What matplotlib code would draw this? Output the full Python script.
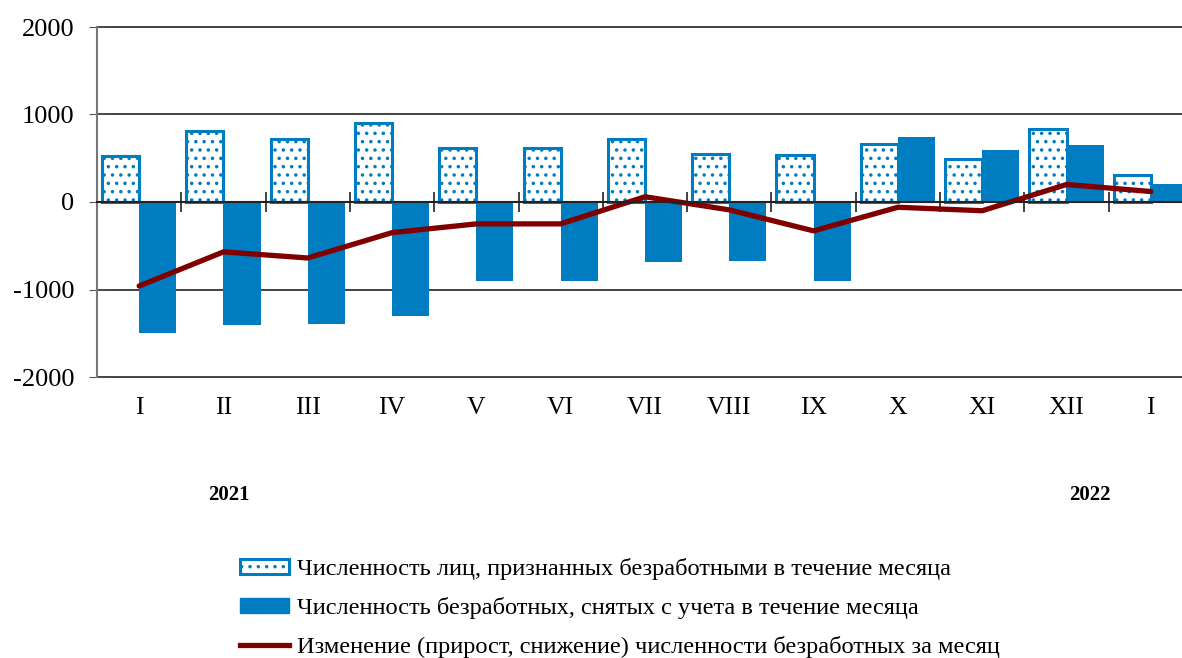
import numpy as np
import matplotlib.pyplot as plt
from matplotlib.patches import Patch
from matplotlib.lines import Line2D
from matplotlib.transforms import blended_transform_factory

plt.rcParams['font.family'] = ['Liberation Serif', 'DejaVu Serif']
plt.rcParams['hatch.linewidth'] = 1.3

# Данные
months = ['I', 'II', 'III', 'IV', 'V', 'VI', 'VII', 'VIII', 'IX', 'X', 'XI', 'XII', 'I']
recognized = [530, 810, 720, 900, 620, 620, 720, 550, 540, 660, 490, 830, 310]
removed = [-1500, -1410, -1390, -1300, -900, -900, -690, -670, -900, 740, 600, 650, 210]
change = [-960, -570, -640, -350, -250, -250, 60, -90, -330, -60, -100, 200, 120]

blue = '#007DC0'
red = '#800000'

fig = plt.figure(figsize=(11.82, 6.58), dpi=100)
ax = fig.add_axes([97 / 1182, 1 - 377 / 658, 1 - 97 / 1182, 350 / 658])

x = np.arange(len(months))
w = 0.44
ax.bar(x - w / 2, recognized, width=w, facecolor='white', edgecolor=blue,
       hatch='..', linewidth=2.2, zorder=3)
ax.bar(x + w / 2, removed, width=w, color=blue, zorder=3)
ax.plot(x, change, color=red, linewidth=3.8, solid_capstyle='round', zorder=4)

ax.set_xlim(-0.5, 12.37)
ax.set_ylim(-2000, 2000)
ax.set_yticks([-2000, -1000, 0, 1000, 2000])
ax.set_yticklabels(['-2000', '-1000', '0', '1000', '2000'], fontsize=19)
ax.tick_params(axis='y', direction='inout', length=11, color='#555555', pad=11)

for v in [-2000, -1000, 1000, 2000]:
    ax.axhline(v, color='#333333', linewidth=1.3, zorder=1, clip_on=False)

for s in ['top', 'right']:
    ax.spines[s].set_visible(False)
ax.spines['left'].set_color('#777777')
ax.spines['left'].set_linewidth(1.5)
ax.spines['bottom'].set_position(('data', 0))
ax.spines['bottom'].set_color('#222222')
ax.spines['bottom'].set_linewidth(1.5)
ax.spines['bottom'].set_zorder(5)

ax.set_xticks(np.arange(0.5, 12, 1))
ax.set_xticklabels([])
ax.tick_params(axis='x', direction='inout', length=15, color='#333333', width=1.3)

tr = blended_transform_factory(ax.transData, ax.transAxes)
for i, m in enumerate(months):
    ax.text(i, -0.088, m, transform=tr, ha='center', va='center', fontsize=18.5)
ax.text(1.06, -0.337, '2021', transform=tr, ha='center', va='center',
        fontsize=15, fontweight='bold')
ax.text(11.28, -0.337, '2022', transform=tr, ha='center', va='center',
        fontsize=15, fontweight='bold')

handles = [
    Patch(facecolor='white', edgecolor=blue, hatch='..', linewidth=2.2),
    Patch(facecolor=blue, edgecolor=blue),
    Line2D([0], [0], color=red, linewidth=3.8),
]
labels = [
    'Численность лиц, признанных безработными в течение месяца',
    'Численность безработных, снятых с учета в течение месяца',
    'Изменение (прирост, снижение) численности безработных за месяц',
]
fig.legend(handles, labels, loc='upper left', bbox_to_anchor=(240 / 1182, 1 - 558 / 658),
           frameon=False, fontsize=17.6, handlelength=2.0, handleheight=0.6,
           handletextpad=0.35, labelspacing=0.7, borderpad=0, borderaxespad=0)

fig.savefig('out.png', dpi=100)
